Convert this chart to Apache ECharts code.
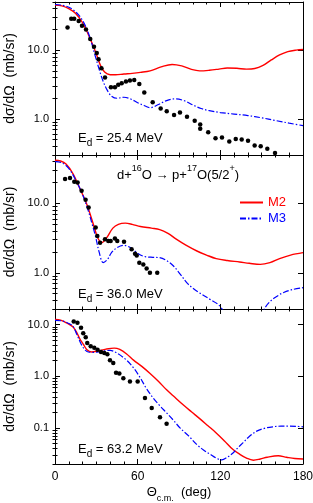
<!DOCTYPE html>
<html><head><meta charset="utf-8">
<script src="https://cdn.jsdelivr.net/npm/echarts@6/dist/echarts.min.js"></script>
<style>html,body{margin:0;padding:0;background:#fff}#c{width:313px;height:503px}</style>
</head><body><div id="c"></div>
<script>
// ---- tick labels ----
const xTicks = [0, 60, 120, 180];
const yMajorUpper = [1, 10];
const yMinorUpper = [0.3,0.4,0.5,0.6,0.7,0.8,0.9,2,3,4,5,6,7,8,9,20,30,40,50];
const yMajorLower = [0.1, 1, 10];
const yMinorLower = [0.02,0.03,0.04,0.05,0.06,0.07,0.08,0.09,0.2,0.3,0.4,0.5,0.6,0.7,0.8,0.9,2,3,4,5,6,7,8,9,20];
const energies = ['25.4', '36.0', '63.2'];
const seriesNames = ['M2', 'M3'];

// ---- E_d = 25.4 MeV ----
const exp_25 = [[9.1,21.3],[11.8,28.5],[13.9,28.5],[17.2,26.5],[19.6,22.6],[22.5,19.9],[25.6,14.5],[28.3,11.2],[30.3,9.1],[31.6,7.35],[33.7,5.45],[36.3,4.0],[40.6,2.9],[43.5,2.9],[45.9,3.13],[48.4,3.31],[51.5,3.49],[54.4,3.61],[57.5,3.69],[61.2,3.23],[64.8,2.42],[70.9,1.75],[76.7,1.42],[81.1,1.3],[86.4,1.14],[90.7,1.245],[95.8,1.08],[101.4,0.945],[105.4,0.83],[105.4,0.72],[111.2,0.64],[116.5,0.525],[121.2,0.537],[126.5,0.47],[131.2,0.514],[135.5,0.502],[140.1,0.483],[144.9,0.412],[149.3,0.403],[154.1,0.37],[159.7,0.32]];
const m2_25 = [[0,45],[5,44],[10,40],[15,34],[20,25],[25,15.5],[30,8.8],[33,6.0],[36,4.8],[40,4.4],[44,4.38],[50,4.5],[56,4.6],[62,4.75],[69,5.0],[77,5.7],[85,6.2],[92,5.9],[99,5.25],[105,5.0],[112,5.1],[119,5.3],[125,5.5],[132,5.45],[139,5.3],[145,5.4],[151,6.0],[157,7.2],[163,8.5],[169,9.5],[175,10.0],[180,10.2]];
const m3_25 = [[0,46],[5,45],[10,42],[15,36],[20,27],[25,16],[29,8.5],[32,5.3],[35,3.5],[38,2.6],[41,2.15],[45,2.0],[50,2.07],[55,1.95],[60,1.72],[65,1.56],[69,1.46],[75,1.62],[81,1.85],[87,1.96],[94,1.84],[100,1.6],[106,1.42],[112,1.32],[120,1.24],[130,1.18],[140,1.12],[150,1.04],[160,0.95],[170,0.87],[180,0.80]];

// ---- E_d = 36.0 MeV ----
const exp_36 = [[7.3,22.5],[10.9,23.3],[14,20.6],[16.4,20.1],[19.3,15.2],[22.2,11.3],[24.4,8.75],[29.5,4.49],[30.7,3.39],[32.7,2.72],[36.3,3.04],[38.7,2.87],[40.4,2.87],[43.5,3.11],[45.2,2.87],[50.1,2.81],[55.6,2.18],[58.1,1.88],[59.3,1.78],[61.2,1.40],[64.1,1.32],[66.5,1.15],[68.9,1.0],[74.2,1.0]];
const m2_36 = [[0,42],[4,41],[8,37],[13,27],[18,16.5],[23,9.8],[28,4.9],[31,3.2],[34,2.72],[37.5,3.2],[42,4.4],[46,5.0],[51,5.2],[56,5.0],[62,4.65],[70,4.4],[76,4.2],[82,3.7],[88,3.05],[95,2.5],[103,2.06],[110,1.8],[117,1.6],[125,1.5],[134,1.43],[141,1.37],[149,1.32],[156,1.4],[163,1.6],[171,1.8],[180,1.95]];
const m3_36 = [[0,40],[5,38.5],[10,32],[15.7,20.5],[20,13.5],[24,8.0],[27,5.0],[29.5,3.3],[32,2.0],[35,1.4],[38,1.55],[41,1.95],[45,2.3],[49.6,2.49],[54,2.35],[58,2.06],[62,1.8],[66,1.7],[71,1.67],[76,1.65],[81,1.5],[86,1.25],[91,0.95],[95.6,0.72],[100,0.6],[105,0.51],[112,0.42],[119.7,0.33],[126,0.2],[132,0.11],[138,0.07],[143,0.08],[148,0.16],[152,0.3],[157,0.4],[162,0.47],[166,0.52],[172,0.57],[180,0.61]];

// ---- E_d = 63.2 MeV ----
const exp_63 = [[13.6,11.5],[16.3,10.8],[18.9,8.65],[20.5,6.8],[22.3,5.7],[23.4,4.4],[25.9,3.8],[28.5,3.57],[30.9,3.27],[33.4,2.94],[35.8,2.82],[38,2.66],[39.9,2.04],[42.3,1.81],[44.3,1.17],[46.7,1.13],[49.6,0.91],[54.4,0.79],[60,0.79],[65.3,0.377],[70.2,0.243],[76.2,0.16],[81,0.12]];
const m2_63 = [[0,12.5],[4,12.2],[7.3,11.1],[10,10.2],[13.3,8.9],[16,6.8],[18,5.3],[20.5,4.2],[23,3.3],[26.6,2.95],[31,3.08],[37,3.35],[43,3.5],[47,3.3],[52,2.7],[57,2.05],[63,1.55],[69,1.13],[75,0.8],[81,0.545],[87,0.39],[93,0.28],[99,0.205],[105,0.151],[111,0.11],[117,0.08],[123,0.056],[129,0.0385],[134,0.031],[139,0.026],[144,0.0237],[149,0.025],[154,0.027],[162,0.0288],[168,0.027],[174,0.0255],[180,0.025]];
const m3_63 = [[0,12],[5,11.8],[10,10.5],[13,9.3],[15.7,6.6],[19.4,3.96],[22,3.2],[24.2,2.94],[28,2.9],[31.4,2.94],[36,3.1],[40,3.16],[45,2.8],[52,2.04],[57,1.45],[61.7,0.95],[66,0.6],[71.3,0.377],[76,0.27],[81,0.195],[86,0.14],[90.7,0.1],[97,0.07],[102.8,0.048],[108,0.037],[112.5,0.031],[117,0.026],[121,0.024],[125,0.027],[129.4,0.033],[133,0.042],[136.6,0.052],[141,0.068],[146.4,0.0865],[152,0.098],[158,0.105],[164,0.108],[170,0.108],[175,0.107],[180,0.105]];

const panels = [
  {exp: exp_25, m2: m2_25, m3: m3_25, min: 0.3, max: 50, major: yMajorUpper, minor: yMinorUpper},
  {exp: exp_36, m2: m2_36, m3: m3_36, min: 0.3, max: 50, major: yMajorUpper, minor: yMinorUpper},
  {exp: exp_63, m2: m2_63, m3: m3_63, min: 0.02, max: 20, major: yMajorLower, minor: yMinorLower}
];

const FONT = '"Liberation Sans", Arial, Helvetica, sans-serif';
const gridBoxes = [{top: 2, height: 153}, {top: 155, height: 154}, {top: 309, height: 155}];
const lineColor = '#000';

const grid = [], xAxis = [], yAxis = [], series = [];
panels.forEach((p, i) => {
  grid.push({left: 55, right: 10, top: gridBoxes[i].top, height: gridBoxes[i].height, outerBoundsMode: 'none', containLabel: false});
  ['bottom', 'top'].forEach(pos => {
    const ax = {
      gridIndex: i, type: 'value', min: 0, max: 180, interval: 60, position: pos,
      axisLine: {show: true, onZero: false, lineStyle: {color: lineColor, width: 1}},
      axisTick: {show: true, inside: true, length: 5, lineStyle: {color: lineColor}},
      minorTick: {show: true, splitNumber: 6, length: 2.5, lineStyle: {color: lineColor}},
      splitLine: {show: false},
      axisLabel: {show: pos === 'bottom' && i === 2, customValues: xTicks, margin: 7, fontSize: 12, color: '#000', fontFamily: FONT}
    };
    if (pos === 'bottom' && i === 2) {
      ax.name = '{a|Θ}{s|c.m.}{a|  (deg)}';
      ax.nameLocation = 'middle';
      ax.nameGap = 22;
      ax.nameTextStyle = {rich: {
        a: {fontSize: 13, fontFamily: FONT, color: '#000', lineHeight: 17, verticalAlign: 'top'},
        s: {fontSize: 9, fontFamily: FONT, color: '#000', lineHeight: 9, verticalAlign: 'bottom'}
      }};
    }
    xAxis.push(ax);
  });
  const yBase = yAxis.length;
  ['left', 'right'].forEach(pos => {
    const major = {
      gridIndex: i, type: 'log', logBase: 10, min: p.min, max: p.max, position: pos,
      axisLine: {show: true, onZero: false, lineStyle: {color: lineColor, width: 1}},
      axisTick: {show: true, inside: true, length: 5, customValues: p.major, lineStyle: {color: lineColor}},
      splitLine: {show: false},
      axisLabel: {show: pos === 'left', customValues: p.major, margin: 6, fontSize: 11, color: '#000', fontFamily: FONT,
        formatter: v => Number(v).toFixed(1)}
    };
    if (pos === 'left') {
      major.name = 'dσ/dΩ  (mb/sr)';
      major.nameLocation = 'middle';
      major.nameGap = 34;
      major.nameTextStyle = {fontSize: 14, fontFamily: FONT, color: '#000'};
    }
    yAxis.push(major);
    yAxis.push({
      gridIndex: i, type: 'log', logBase: 10, min: p.min, max: p.max, position: pos,
      axisLine: {show: false},
      axisTick: {show: true, inside: true, length: 2.5, customValues: p.minor, lineStyle: {color: lineColor}},
      splitLine: {show: false},
      axisLabel: {show: false}
    });
  });
  const xi = i * 2, yi = yBase;
  series.push({type: 'scatter', xAxisIndex: xi, yAxisIndex: yi, data: p.exp, symbol: 'circle', symbolSize: 4.5,
    itemStyle: {color: '#000', opacity: 1}, z: 3, silent: true});
  series.push({type: 'line', name: seriesNames[0], xAxisIndex: xi, yAxisIndex: yi, data: p.m2, smooth: 0.35,
    symbol: 'none', clip: true, lineStyle: {color: '#ff0000', width: 1.4}, itemStyle: {color: '#ff0000'}, z: 2});
  series.push({type: 'line', name: seriesNames[1], xAxisIndex: xi, yAxisIndex: yi, data: p.m3, smooth: 0.35,
    symbol: 'none', clip: true, lineStyle: {color: '#0000ff', width: 1.2, type: [6, 2, 1.5, 2]}, itemStyle: {color: '#0000ff'}, z: 2});
});

const main = {fontSize: 13, fontFamily: FONT, fill: '#000', lineHeight: 17, verticalAlign: 'top'};
const sub = {fontSize: 10, fontFamily: FONT, fill: '#000', lineHeight: 10, verticalAlign: 'bottom'};
const mainSup = {fontSize: 13, fontFamily: FONT, fill: '#000', lineHeight: 17, verticalAlign: 'bottom'};
const sup = {fontSize: 9, fontFamily: FONT, fill: '#000', lineHeight: 9, verticalAlign: 'top'};
const energyY = [140, 296, 451];
const graphic = energies.map((e, i) => ({
  type: 'text', x: 78, y: energyY[i],
  style: {text: '{a|E}{s|d}{a| = ' + e + ' MeV}', rich: {a: main, s: sub}, align: 'left', verticalAlign: 'middle'}
}));
graphic.push({
  type: 'text', x: 178, y: 173,
  style: {text: '{a|d+}{p|16}{a|O → p+}{p|17}{a|O(5/2}{p|+}{a|)}', rich: {a: mainSup, p: sup}, align: 'center', verticalAlign: 'middle'}
});

const option = {
  animation: false,
  backgroundColor: '#fff',
  grid, xAxis, yAxis, series, graphic,
  legend: {
    data: [{name: 'M2', textStyle: {color: '#ff0000'}}, {name: 'M3', textStyle: {color: '#0000ff'}}],
    orient: 'vertical', left: 239, top: 196, itemWidth: 23, itemHeight: 14, itemGap: 3,
    itemStyle: {opacity: 0, borderWidth: 0},
    textStyle: {fontSize: 13, fontFamily: FONT}, padding: 0, selectedMode: false
  }
};
const chart = echarts.init(document.getElementById('c'), null, {renderer: 'canvas'});
chart.setOption(option);
</script></body></html>
